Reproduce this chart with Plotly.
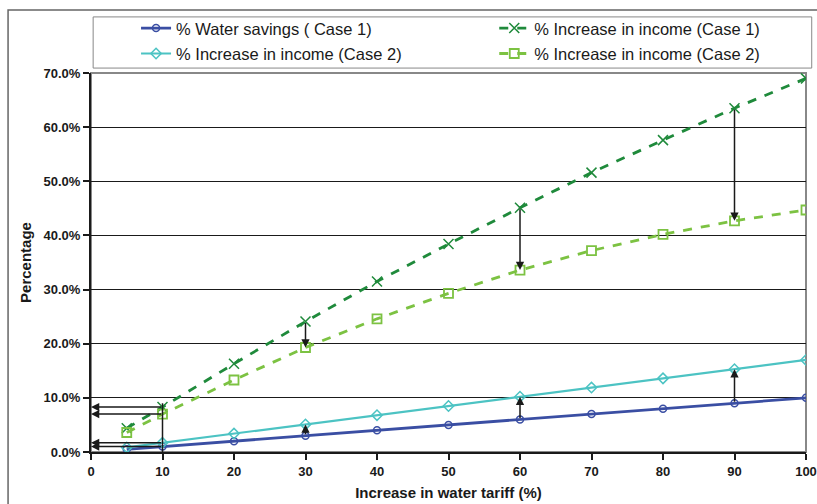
import plotly.graph_objects as go

tariff = [5, 10, 20, 30, 40, 50, 60, 70, 80, 90, 100]
water_savings_c1 = [0.5, 1.0, 2.0, 3.0, 4.0, 5.0, 6.0, 7.0, 8.0, 9.0, 10.0]
income_c1 = [4.4, 8.3, 16.3, 24.1, 31.5, 38.4, 45.1, 51.6, 57.6, 63.5, 69.0]
income_c2_solid = [0.85, 1.7, 3.4, 5.1, 6.8, 8.5, 10.2, 11.9, 13.6, 15.3, 17.0]
income_c2_dash = [3.6, 7.0, 13.3, 19.3, 24.6, 29.3, 33.6, 37.2, 40.2, 42.7, 44.7]
arrow_x = [30, 60, 90]
ref_x = 10

y_ticks = [0, 10, 20, 30, 40, 50, 60, 70]
y_ticktext = [f"{v:.1f}%" for v in y_ticks]
x_ticks = [0, 10, 20, 30, 40, 50, 60, 70, 80, 90, 100]

FONT = "Liberation Sans, Arial, sans-serif"
BLUE = "#3a4ea3"
CYAN = "#4cc3c3"
DGREEN = "#1f8a3b"
LGREEN = "#7cc242"

fig = go.Figure()
fig.add_trace(go.Scatter(x=tariff, y=water_savings_c1, name="% Water savings ( Case 1)",
                         legend="legend", legendgroup="a",
                         mode="lines+markers", line=dict(color=BLUE, width=2.8),
                         marker=dict(symbol="circle-open", size=7, color=BLUE, line=dict(width=1.5))))
fig.add_trace(go.Scatter(x=tariff, y=income_c2_solid, name="% Increase in income (Case 2)",
                         legend="legend", legendgroup="b",
                         mode="lines+markers", line=dict(color=CYAN, width=2.2),
                         marker=dict(symbol="diamond-open", size=8, color=CYAN, line=dict(width=1.5))))
fig.add_trace(go.Scatter(x=tariff, y=income_c1, name="% Increase in income (Case 1)",
                         legend="legend2", legendgroup="c",
                         mode="lines+markers", line=dict(color=DGREEN, width=2.8, dash="dash"),
                         marker=dict(symbol="x-thin-open", size=10, color=DGREEN, line=dict(width=1.5, color=DGREEN))))
fig.add_trace(go.Scatter(x=tariff, y=income_c2_dash, name="% Increase in income (Case 2)",
                         legend="legend2", legendgroup="d",
                         mode="lines+markers", line=dict(color=LGREEN, width=2.8, dash="dash"),
                         marker=dict(symbol="square-open", size=9, color=LGREEN, line=dict(width=1.8))))

ann = []
def arrow(x_head, y_head, x_tail, y_tail):
    ann.append(dict(x=x_head, y=y_head, ax=x_tail, ay=y_tail, xref="x", yref="y",
                    axref="x", ayref="y", showarrow=True, arrowhead=2, arrowsize=1.1,
                    arrowwidth=1.5, arrowcolor="#1a1a1a", text=""))

for xv in arrow_x:
    i = tariff.index(xv)
    arrow(xv, income_c2_dash[i], xv, income_c1[i])
    arrow(xv, income_c2_solid[i], xv, water_savings_c1[i])

j = tariff.index(ref_x)
for series in (income_c1, income_c2_dash, income_c2_solid, water_savings_c1):
    arrow(0, series[j], ref_x, series[j])

shapes = [
    dict(type="line", xref="x", yref="y", x0=ref_x, x1=ref_x, y0=0, y1=income_c1[j] + 0.7,
         line=dict(color="#1a1a1a", width=1.5)),
    dict(type="rect", xref="paper", yref="paper", x0=0, x1=1, y0=0, y1=1,
         line=dict(color="#888888", width=2), layer="below"),
    dict(type="rect", xref="paper", yref="paper", x0=-0.116, x1=1.2, y0=-0.6, y1=1.166,
         line=dict(color="#666666", width=1.5), layer="below"),
    # legend frame
    dict(type="rect", xref="paper", yref="paper", x0=0.003, x1=1.008, y0=1.013, y1=1.148,
         line=dict(color="#888888", width=1), fillcolor="white", layer="below"),
]

legend_common = dict(orientation="v", xanchor="left", yanchor="top",
                     bgcolor="rgba(0,0,0,0)", borderwidth=0,
                     font=dict(family=FONT, size=16.5, color="#1a1a1a"),
                     traceorder="grouped", tracegroupgap=1, itemwidth=30)

fig.update_layout(
    width=817, height=504,
    margin=dict(l=91, r=11, t=73, b=52, autoexpand=False),
    paper_bgcolor="white", plot_bgcolor="white",
    font=dict(family=FONT, color="#1a1a1a"),
    showlegend=True,
    legend=dict(x=0.063, y=1.164, **legend_common),
    legend2=dict(x=0.564, y=1.164, **legend_common),
    annotations=ann,
    shapes=shapes,
    xaxis=dict(range=[0, 100], tickvals=x_ticks, ticks="outside", ticklen=6, tickwidth=1.5,
               tickcolor="#1a1a1a", showline=True, linecolor="#1a1a1a", linewidth=2,
               showgrid=False, zeroline=False, automargin=False,
               tickfont=dict(family=FONT, size=13, weight="bold"),
               title=dict(text="Increase in water tariff (%)", standoff=10,
                          font=dict(family=FONT, size=15, weight="bold"))),
    yaxis=dict(range=[0, 70], tickvals=y_ticks, ticktext=y_ticktext,
               ticks="outside", ticklen=6, tickwidth=1.5, tickcolor="#1a1a1a",
               showline=True, linecolor="#1a1a1a", linewidth=2,
               showgrid=True, gridcolor="#1a1a1a", gridwidth=1.3, zeroline=False,
               automargin=False,
               tickfont=dict(family=FONT, size=13, weight="bold"),
               title=dict(text="Percentage", standoff=8,
                          font=dict(family=FONT, size=15, weight="bold"))),
)

fig.write_html("out.html", config={"displayModeBar": False},
               post_script="document.body.style.margin='0';document.body.style.overflow='hidden';")
